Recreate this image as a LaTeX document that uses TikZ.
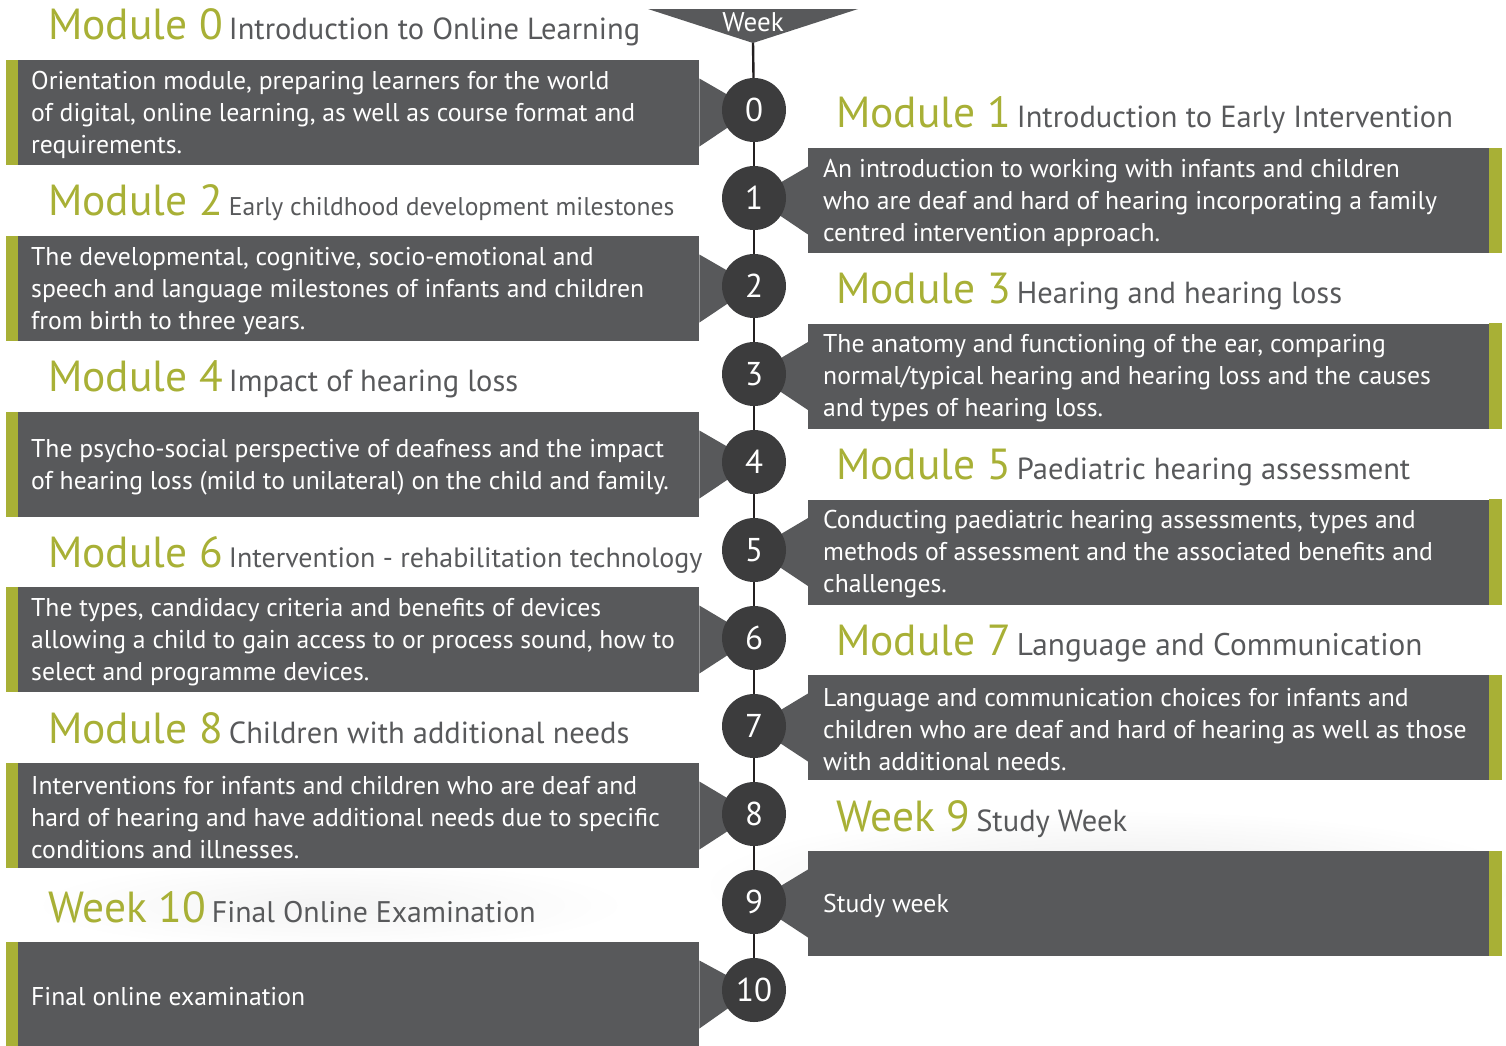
\documentclass[tikz,border=0pt]{standalone}
\usepackage{fontspec}
\setmainfont{PT Sans}
\definecolor{boxgray}{HTML}{58595B}
\definecolor{dotgray}{HTML}{3C3C3D}
\definecolor{modgreen}{HTML}{A8B036}
\definecolor{spinegray}{HTML}{231F20}
\newcommand{\modtitle}[3]{{\color{modgreen}\fontsize{43.5}{43.5}\selectfont #1}\hspace{6pt}{\color{boxgray}\fontsize{#3}{#3}\selectfont #2}}

\begin{document}
\begin{tikzpicture}[x=1pt,y=-1pt,
    lbox/.style={fill=boxgray, minimum width=681pt, minimum height=105pt, inner sep=0pt, anchor=west},
    rbox/.style={lbox},
    btext/.style={text=white, inner sep=0pt, align=left, anchor=west, font=\fontsize{25.7}{32}\selectfont},
    weeknum/.style={circle, fill=dotgray, minimum size=64pt, inner sep=0pt, text=white, font=\fontsize{33}{33}\selectfont},
    modhead/.style={anchor=base west, inner sep=0pt},
    spine/.style={draw=spinegray, line width=2.4pt}]

    \useasboundingbox (0,0) rectangle (1506,1045);
    \shade[inner color=gray!16, outer color=white] (1120,885) ellipse (420 and 75);
    \shade[inner color=gray!9, outer color=white] (330,905) ellipse (300 and 45);

    \fill[boxgray] (648,9) -- (858,9) -- (753,43) -- cycle;
    \coordinate (tip) at (753,43);
    \node[text=white, font=\fontsize{27}{27}\selectfont] (weektxt) at (753,22) {Week};

    \coordinate (c0) at (754,110);
    \coordinate (c1) at (754,198);
    \coordinate (c2) at (754,286);
    \coordinate (c3) at (754,374);
    \coordinate (c4) at (754,462);
    \coordinate (c5) at (754,550);
    \coordinate (c6) at (754,638);
    \coordinate (c7) at (754,726);
    \coordinate (c8) at (754,814);
    \coordinate (c9) at (754,902);
    \coordinate (c10) at (754,990);

    \node[lbox] (b0) at (18, 112.5) {};
    \node[rbox] (b1) at (808, 200.5) {};
    \node[lbox] (b2) at (18, 288.5) {};
    \node[rbox] (b3) at (808, 376) {};
    \node[lbox] (b4) at (18, 464.5) {};
    \node[rbox] (b5) at (808, 552) {};
    \node[lbox] (b6) at (18, 639.5) {};
    \node[rbox] (b7) at (808, 727.5) {};
    \node[lbox] (b8) at (18, 815.5) {};
    \node[rbox] (b9) at (808, 903.5) {};
    \node[lbox] (b10) at (18, 994.5) {};

    \node[btext] (t0) at ([xshift=13pt,yshift=-2.5pt]b0.west) {Orientation module, preparing learners for the world\\ of digital, online learning, as well as course format and\\ requirements.};
    \node[btext] (t1) at ([xshift=15pt,yshift=-2.5pt]b1.west) {An introduction to working with infants and children\\ who are deaf and hard of hearing incorporating a family\\ centred intervention approach.};
    \node[btext] (t2) at ([xshift=13pt,yshift=-2.5pt]b2.west) {The developmental, cognitive, socio-emotional and\\ speech and language milestones of infants and children\\ from birth to three years.};
    \node[btext] (t3) at ([xshift=15pt,yshift=-2.5pt]b3.west) {The anatomy and functioning of the ear, comparing\\ normal/typical hearing and hearing loss and the causes\\ and types of hearing loss.};
    \node[btext] (t4) at ([xshift=13pt,yshift=-2.5pt]b4.west) {The psycho-social perspective of deafness and the impact\\ of hearing loss (mild to unilateral) on the child and family.};
    \node[btext] (t5) at ([xshift=15pt,yshift=-2.5pt]b5.west) {Conducting paediatric hearing assessments, types and\\ methods of assessment and the associated benefits and\\ challenges.};
    \node[btext] (t6) at ([xshift=13pt,yshift=-2.5pt]b6.west) {The types, candidacy criteria and benefits of devices\\ allowing a child to gain access to or process sound, how to\\ select and programme devices.};
    \node[btext] (t7) at ([xshift=15pt,yshift=-2.5pt]b7.west) {Language and communication choices for infants and\\ children who are deaf and hard of hearing as well as those\\ with additional needs.};
    \node[btext] (t8) at ([xshift=13pt,yshift=-2.5pt]b8.west) {Interventions for infants and children who are deaf and\\ hard of hearing and have additional needs due to specific\\ conditions and illnesses.};
    \node[btext] (t9) at ([xshift=15pt,yshift=-2.5pt]b9.west) {Study week};
    \node[btext] (t10) at ([xshift=13pt,yshift=-2.5pt]b10.west) {Final online examination};

    \fill[modgreen] (b0.north west) rectangle ([xshift=-12pt]b0.south west);
    \fill[modgreen] (b2.north west) rectangle ([xshift=-12pt]b2.south west);
    \fill[modgreen] (b4.north west) rectangle ([xshift=-12pt]b4.south west);
    \fill[modgreen] (b6.north west) rectangle ([xshift=-12pt]b6.south west);
    \fill[modgreen] (b8.north west) rectangle ([xshift=-12pt]b8.south west);
    \fill[modgreen] (b10.north west) rectangle ([xshift=-12pt]b10.south west);
    \fill[modgreen] (b1.north east) rectangle ([xshift=13pt]b1.south east);
    \fill[modgreen] (b3.north east) rectangle ([xshift=13pt]b3.south east);
    \fill[modgreen] (b5.north east) rectangle ([xshift=13pt]b5.south east);
    \fill[modgreen] (b7.north east) rectangle ([xshift=13pt]b7.south east);
    \fill[modgreen] (b9.north east) rectangle ([xshift=13pt]b9.south east);

    \fill[boxgray] ([yshift=34pt]b0.east) -- (c0) -- ([yshift=-34pt]b0.east) -- cycle;
    \fill[boxgray] ([yshift=34pt]b1.west) -- (c1) -- ([yshift=-34pt]b1.west) -- cycle;
    \fill[boxgray] ([yshift=34pt]b2.east) -- (c2) -- ([yshift=-34pt]b2.east) -- cycle;
    \fill[boxgray] ([yshift=34pt]b3.west) -- (c3) -- ([yshift=-34pt]b3.west) -- cycle;
    \fill[boxgray] ([yshift=34pt]b4.east) -- (c4) -- ([yshift=-34pt]b4.east) -- cycle;
    \fill[boxgray] ([yshift=34pt]b5.west) -- (c5) -- ([yshift=-34pt]b5.west) -- cycle;
    \fill[boxgray] ([yshift=34pt]b6.east) -- (c6) -- ([yshift=-34pt]b6.east) -- cycle;
    \fill[boxgray] ([yshift=34pt]b7.west) -- (c7) -- ([yshift=-34pt]b7.west) -- cycle;
    \fill[boxgray] ([yshift=34pt]b8.east) -- (c8) -- ([yshift=-34pt]b8.east) -- cycle;
    \fill[boxgray] ([yshift=34pt]b9.west) -- (c9) -- ([yshift=-34pt]b9.west) -- cycle;
    \fill[boxgray] ([yshift=34pt]b10.east) -- (c10) -- ([yshift=-34pt]b10.east) -- cycle;

    \node[weeknum] (w0) at (c0) {0};
    \node[weeknum] (w1) at (c1) {1};
    \node[weeknum] (w2) at (c2) {2};
    \node[weeknum] (w3) at (c3) {3};
    \node[weeknum] (w4) at (c4) {4};
    \node[weeknum] (w5) at (c5) {5};
    \node[weeknum] (w6) at (c6) {6};
    \node[weeknum] (w7) at (c7) {7};
    \node[weeknum] (w8) at (c8) {8};
    \node[weeknum] (w9) at (c9) {9};
    \node[weeknum] (w10) at (c10) {10};

    \draw[spine] (tip) -- (w0);
    \draw[spine] (w0) -- (w1);
    \draw[spine] (w1) -- (w2);
    \draw[spine] (w2) -- (w3);
    \draw[spine] (w3) -- (w4);
    \draw[spine] (w4) -- (w5);
    \draw[spine] (w5) -- (w6);
    \draw[spine] (w6) -- (w7);
    \draw[spine] (w7) -- (w8);
    \draw[spine] (w8) -- (w9);
    \draw[spine] (w9) -- (w10);

    \node[modhead] (h0) at (48, 39) {\modtitle{Module 0}{Introduction to Online Learning}{30.5}};
    \node[modhead] (h1) at (836, 127) {\modtitle{Module 1}{Introduction to Early Intervention}{30.5}};
    \node[modhead] (h2) at (48, 215) {\modtitle{Module 2}{Early childhood development milestones}{25.6}};
    \node[modhead] (h3) at (836, 303) {\modtitle{Module 3}{Hearing and hearing loss}{30.5}};
    \node[modhead] (h4) at (48, 391) {\modtitle{Module 4}{Impact of hearing loss}{30.5}};
    \node[modhead] (h5) at (836, 479) {\modtitle{Module 5}{Paediatric hearing assessment}{30.5}};
    \node[modhead] (h6) at (48, 567) {\modtitle{Module 6}{Intervention - rehabilitation technology}{28}};
    \node[modhead] (h7) at (836, 655) {\modtitle{Module 7}{Language and Communication}{31.3}};
    \node[modhead] (h8) at (48, 743) {\modtitle{Module 8}{Children with additional needs}{30.5}};
    \node[modhead] (h9) at (836, 831) {\modtitle{Week 9}{Study Week}{30.5}};
    \node[modhead] (h10) at (48, 922) {\modtitle{Week 10}{Final Online Examination}{29.8}};

\end{tikzpicture}
\end{document}
